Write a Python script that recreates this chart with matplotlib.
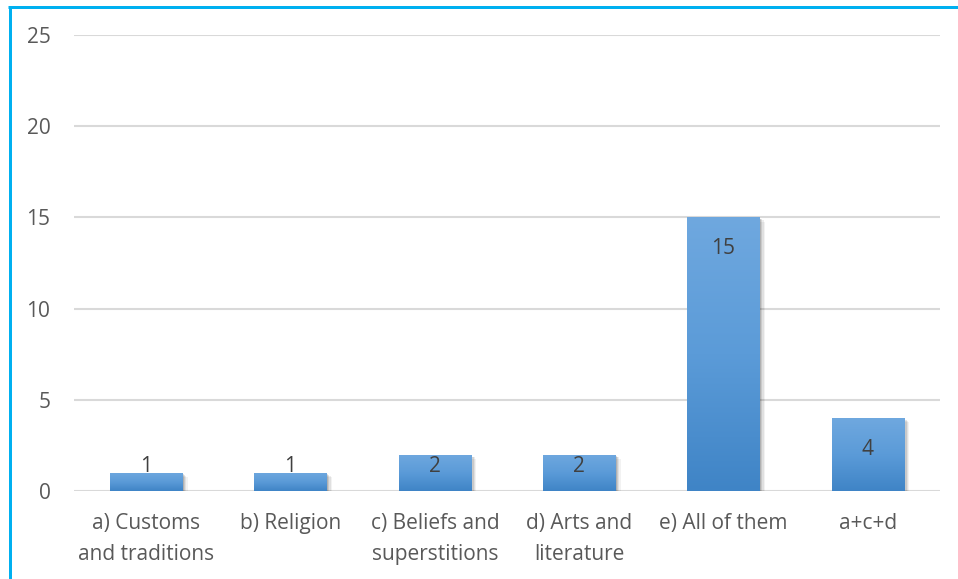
import numpy as np
import matplotlib
matplotlib.use("Agg")
import matplotlib.pyplot as plt
from matplotlib.colors import LinearSegmentedColormap
from matplotlib.lines import Line2D
import matplotlib.patheffects as pe

categories = ["a) Customs\nand traditions", "b) Religion", "c) Beliefs and\nsuperstitions",
              "d) Arts and\nliterature", "e) All of them", "a+c+d"]
counts = [1, 1, 2, 2, 15, 4]
y_ticks = [0, 5, 10, 15, 20, 25]

plt.rcParams['font.family'] = ['Open Sans', 'DejaVu Sans']

W, H, DPI = 958, 579, 100
fig = plt.figure(figsize=(W / DPI, H / DPI), dpi=DPI)
fig.patch.set_facecolor("white")

left, right = 74 / W, 940 / W
bottom, top = (H - 491) / H, (H - 35) / H
ax = fig.add_axes([left, bottom, right - left, top - bottom])

x = np.arange(len(categories))
bars = ax.bar(x, counts, width=0.5, color="#5b9bd5", zorder=3,
              path_effects=[pe.SimplePatchShadow(offset=(4, -3), shadow_rgbFace="#000000", alpha=0.05),
                            pe.SimplePatchShadow(offset=(3, -2), shadow_rgbFace="#000000", alpha=0.07),
                            pe.SimplePatchShadow(offset=(2, -1.5), shadow_rgbFace="#000000", alpha=0.10),
                            pe.SimplePatchShadow(offset=(1, -1), shadow_rgbFace="#000000", alpha=0.12),
                            pe.Normal()])

# vertical gradient fill inside each bar
grad_cmap = LinearSegmentedColormap.from_list("bar", ["#3f84c6", "#5b9bd8", "#6fa8df"])
grad = np.linspace(0, 1, 256).reshape(-1, 1)
for b in bars:
    x0 = b.get_x()
    im = ax.imshow(grad, extent=[x0, x0 + b.get_width(), 0, b.get_height()],
                   origin="lower", aspect="auto", cmap=grad_cmap, zorder=3.5,
                   interpolation="bicubic")
    im.set_clip_path(b)

ax.set_xlim(-0.5, len(categories) - 0.5)
ax.set_ylim(0, 25)
ax.set_yticks(y_ticks)
ax.set_xticks(x)
ax.set_xticklabels(categories, linespacing=1.6)

for s in ax.spines.values():
    s.set_visible(False)
ax.grid(axis="y", color="#d9d9d9", linewidth=1.5, zorder=0)
ax.tick_params(axis="both", length=0, labelsize=15, colors="#595959")
ax.tick_params(axis="y", pad=17)
ax.tick_params(axis="x", pad=16)

# value labels placed inside the bar end, kept clear of the baseline
px_per_unit = (top - bottom) * H / 25
for xi, v in zip(x, counts):
    yl = max(v - 31 / px_per_unit, 25 / px_per_unit)
    ax.text(xi, yl, str(v), ha="center", va="center", fontsize=15,
            color="#404040", zorder=5)

# cyan frame around the chart area
fig.add_artist(Line2D([10 / W, 10 / W], [0, 1 - 6.5 / H], color="#00b0f0",
                      linewidth=3 * 72 / DPI, solid_capstyle="butt"))
fig.add_artist(Line2D([8 / W, 1], [1 - 6.5 / H, 1 - 6.5 / H], color="#00b0f0",
                      linewidth=3 * 72 / DPI, solid_capstyle="butt"))

fig.savefig("out.png", dpi=DPI, facecolor="white")
